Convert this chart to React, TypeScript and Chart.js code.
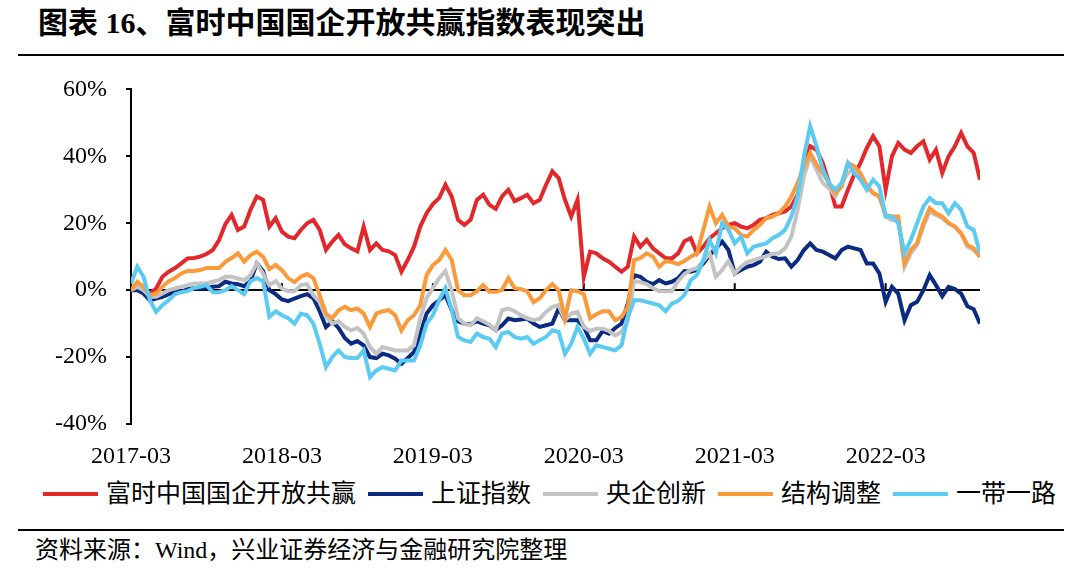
import React, { useEffect, useRef } from "react";
import { Chart, registerables } from "chart.js";

Chart.register(...registerables);

// x: months since 2017-03, sampled every half month
const months: number[] = Array.from({ length: 136 }, (_, i) => i * 0.5);
const tickLabels = ["2017-03", "2018-03", "2019-03", "2020-03", "2021-03", "2022-03"];
const yTicks = [-40, -20, 0, 20, 40, 60];

const seriesNames = ["富时中国国企开放共赢", "上证指数", "央企创新", "结构调整", "一带一路"];
const seriesColors = ["#E2282A", "#0B2A82", "#C3C3C3", "#FB9A3A", "#5BCBF3"];

const ftseSOE = [
  0, 2, 1, -1, 0.5, 4, 5.5, 6.6, 8, 9.5, 9.6, 10,
  10.8, 12, 15, 19.7, 22.5, 18, 19, 24, 28, 27, 19, 21.5,
  17.5, 16, 15.5, 18, 20, 21, 18, 12, 14.5, 16.5, 13.7, 12.5,
  11.6, 19, 12, 14, 12, 11.6, 10.5, 5.5, 9, 13, 19, 23,
  25.7, 27.5, 31.5, 28, 21, 19.5, 21, 27, 28.5, 25.5, 24.3, 28,
  30, 26.6, 27.5, 28.5, 26, 27, 31.5, 35.5, 33.5, 27, 22, 27,
  4, 11.5, 11, 9.5, 8.5, 7, 5.5, 7, 16, 13, 15, 12.5,
  11, 9.6, 9.5, 11, 14.6, 15.5, 11, 13, 15.5, 17, 18.5, 19.5,
  20, 19, 18.5, 19.5, 21, 21.5, 22.5, 23, 23.5, 25, 28.5, 36,
  43, 42, 38, 32, 25, 25, 30, 34.5, 38, 42.5, 46, 43,
  30, 40, 44, 42, 41, 43, 44.5, 39, 42, 35, 40, 43,
  47, 43, 41, 33,
];

const shanghai = [
  0, 0, -1, -3, -2.5, -2, -1.2, -0.5, -0.5, 0.3, 0.6, 0.6,
  0.6, 1, 1.2, 2.5, 2, 1.8, 1.2, 2.7, 8, 5.7, 0, -1.2,
  -2.8, -3.3, -2.5, -1.8, -1.2, -2.4, -6.3, -11, -9.3, -11.3, -14.3, -16,
  -15.2, -16.5, -20, -20.3, -19, -19.5, -20.5, -22, -20.3, -18.5, -13, -7,
  -4.5, -3, -1.5, -6, -9.3, -10, -10.2, -9.3, -10, -10.5, -12, -10.5,
  -8.5, -9, -8.8, -8.5, -10, -11, -10.5, -10, -5.5, -9, -9, -9,
  -11, -15, -15, -12.2, -13, -11.3, -10, -4, 4.5, 4, 2.5, 1.8,
  3, 2, 2.5, 3.6, 5.7, 5.5, 6, 8, 10.5, 12.5, 14.5, 12,
  5, 6, 7, 7.5, 8.5, 11.5, 10, 9.3, 9.5, 7, 9, 12,
  14, 12, 11.5, 10.5, 9.5, 12, 13, 12.5, 12, 8, 8, 5,
  -3.5, 1, -1, -9, -4.5, -3.5, 0, 4.5, 1.5, -1.8, 1, 0.3,
  -1, -4.8, -5.7, -10,
];

const centralSOE = [
  0, 1, 0, -2, -2, -1, 0, 0.5, 1, 1.5, 2, 2,
  2, 2.5, 3, 4, 4, 3.5, 3, 4.5, 8, 5, 1.5, 2.7,
  0.5, -0.3, -0.3, 1.5, 1.8, -1.5, -3.5, -8, -10, -9.3, -11, -12,
  -11.3, -13, -17, -19, -17, -17.5, -18, -18, -18, -16.5, -8.4, -2.4,
  0.6, 3.6, 5.7, 0, -8.4, -10, -10.5, -8.4, -9.3, -10.3, -12, -6,
  -5.5, -6.3, -7.5, -8.4, -9, -8.5, -6.5, -5, -4.5, -9, -7, -6.5,
  -11, -12.2, -11.5, -11.5, -12.2, -13.5, -12.5, -9, 2.7, 2.4, 1.8, 0.6,
  -0.3, -0.3, -0.3, 2.7, 4.8, 6, 6.6, 8.7, 11, 4, 6, 8.7,
  5, 7, 8.4, 9, 9.6, 10.2, 10.8, 11, 12.5, 16, 24, 34,
  40, 36, 32, 30.5, 28, 32, 35, 36, 33, 31.5, 29, 28,
  22, 21, 21, 7, 11, 13.5, 19, 23.5, 22.5, 21.5, 20, 19,
  17, 13, 12, 10,
];

const restructure = [
  0, 2.5, 1, -1.5, -1, 1, 2.7, 3.6, 5, 5.7, 5.7, 6,
  6.6, 6.6, 6.6, 8.5, 9.6, 11, 8.5, 10.5, 11.5, 10, 6.3, 7.5,
  6, 3.6, 2.4, 4, 4.8, 3.6, -1.5, -7, -8.4, -6, -5, -6,
  -5.5, -7, -11, -7, -6.3, -6, -7.5, -12, -9, -7.5, -4.5, 4.5,
  7.5, 9, 12, 9, 0, -1.5, -1.5, -0.3, 1.5, -0.5, -0.5, 0,
  3.6, 0.6, 0.3, -0.3, -3.6, -2.4, 0, 1.8, 0, -8.4, 0, -0.3,
  -1.2, -8.4, -7.2, -6.3, -6.3, -9, -8, -5, 9, 9.6, 11, 10,
  7, 8.7, 8.4, 7.8, 8.7, 10, 11, 18, 25, 20, 22.5, 19,
  18.5, 16.5, 16, 18, 19.5, 21.5, 22, 23, 25, 28, 32, 37,
  41, 37.5, 35, 32, 29, 31, 38, 37, 35, 31, 29, 28,
  22.5, 22, 22, 8, 12, 14, 20, 24.5, 23, 22, 20, 19,
  17, 13.5, 12.5, 10,
];

const beltRoad = [
  2, 7, 4, -3, -6.5, -4.5, -3, -1.2, -0.6, -0.3, 0.6, 1,
  1.5, -0.6, -0.6, 0, 1.2, 0, -1.2, 2.7, 3.6, 2.7, -8, -6.3,
  -7.5, -8.4, -10, -7, -7.5, -10, -16, -23, -20, -18, -20, -20.3,
  -20.3, -18, -26, -24, -23, -23.5, -24, -21, -21, -21, -16.5, -10,
  -7.5, -3, 0.6, -6, -14, -15, -15.5, -13, -14, -14.5, -17, -13,
  -12.5, -14, -14.5, -14, -16, -15, -14, -12, -12.5, -19, -16, -11,
  -14.5, -19, -16.5, -17, -17.5, -18, -16.5, -8, -3, -3, -3.5, -4,
  -4.5, -6.3, -4, -3.2, -1.5, 3, 4.5, 9, 15, 11, 20, 18,
  14, 16, 11, 13, 13.5, 14, 15.5, 16.5, 18, 22, 28, 40,
  49, 43, 36, 32, 30, 32, 38, 35, 33, 30, 33, 31,
  22, 22, 20, 11, 15, 20, 25, 27.5, 26, 26, 23, 26,
  24, 19, 18, 11,
];

const seriesValues = [ftseSOE, shanghai, centralSOE, restructure, beltRoad];

const SERIF = '"Liberation Serif", "Times New Roman", "Noto Sans CJK SC", serif';

export default function App() {
  const canvasRef = useRef<HTMLCanvasElement | null>(null);

  useEffect(() => {
    if (!canvasRef.current) return;

    const zeroTicks = {
      id: "zeroTicks",
      beforeDatasetsDraw(chart: any) {
        const { ctx, scales } = chart;
        const x = scales.x;
        const y = scales.y;
        const y0 = y.getPixelForValue(0);
        ctx.save();
        ctx.strokeStyle = "#000";
        ctx.lineWidth = 2;
        for (let i = 1; i < tickLabels.length; i++) {
          const px = x.getPixelForValue(i * 12);
          ctx.beginPath();
          ctx.moveTo(px, y0);
          ctx.lineTo(px, y0 - 7);
          ctx.stroke();
        }
        ctx.restore();
      },
    };

    const chart = new Chart(canvasRef.current, {
      type: "line",
      data: {
        datasets: seriesNames.map((name, k) => ({
          label: name,
          data: months.map((m, i) => ({ x: m, y: seriesValues[k][i] })),
          borderColor: seriesColors[k],
          backgroundColor: seriesColors[k],
          borderWidth: 4,
          pointRadius: 0,
          tension: 0,
          fill: false,
          order: seriesNames.length - k,
        })),
      },
      options: {
        responsive: false,
        maintainAspectRatio: false,
        animation: false,
        layout: { padding: { left: 0, right: 100, top: 24, bottom: 0 } },
        plugins: {
          legend: { display: false },
          tooltip: { enabled: false },
        },
        scales: {
          x: {
            type: "linear",
            min: 0,
            max: 67.5,
            afterBuildTicks: (s: any) => {
              s.ticks = tickLabels.map((_, i) => ({ value: i * 12 }));
            },
            ticks: {
              autoSkip: false,
              maxRotation: 0,
              padding: 18,
              color: "#000",
              font: { family: SERIF, size: 24 },
              callback: (v: any) => tickLabels[Math.round(Number(v) / 12)] ?? "",
            },
            grid: { display: false, drawTicks: false },
            border: { display: false },
            afterFit: (s: any) => {
              s.height = 47;
            },
          },
          y: {
            min: -40,
            max: 60,
            afterBuildTicks: (s: any) => {
              s.ticks = yTicks.map((v) => ({ value: v }));
            },
            ticks: {
              padding: 19,
              color: "#000",
              font: { family: SERIF, size: 24 },
              callback: (v: any) => `${v}%`,
            },
            grid: {
              drawOnChartArea: true,
              color: (c: any) => (c.tick && c.tick.value === 0 ? "#000" : "rgba(0,0,0,0)"),
              lineWidth: 2,
              tickColor: "#000",
              tickLength: 5,
              tickWidth: 2,
            },
            border: { display: true, color: "#000", width: 2 },
            afterFit: (s: any) => {
              s.width = 131;
            },
          },
        },
      },
      plugins: [zeroTicks],
    } as any);

    return () => chart.destroy();
  }, []);

  return (
    <div
      style={{
        position: "absolute",
        left: 0,
        top: 0,
        width: 1080,
        height: 581,
        background: "#fff",
        overflow: "hidden",
        fontFamily: SERIF,
        color: "#000",
      }}
    >
      <div
        style={{
          position: "absolute",
          left: 38,
          top: 3,
          lineHeight: "40px",
          fontSize: 30,
          fontWeight: 700,
          whiteSpace: "nowrap",
        }}
      >
        图表 16、富时中国国企开放共赢指数表现突出
      </div>
      <div style={{ position: "absolute", left: 18, top: 54, width: 1046, height: 2, background: "#000" }} />
      <canvas
        ref={canvasRef}
        width={1080}
        height={415}
        style={{ position: "absolute", left: 0, top: 56, width: 1080, height: 415 }}
      />
      <div
        style={{
          position: "absolute",
          left: 43,
          top: 478,
          height: 32,
          display: "flex",
          alignItems: "center",
          whiteSpace: "nowrap",
        }}
      >
        {seriesNames.map((name, k) => (
          <div key={name} style={{ display: "flex", alignItems: "center", marginRight: 12 }}>
            <div style={{ width: 55, height: 4, background: seriesColors[k], marginRight: 8 }} />
            <span style={{ fontSize: 25, lineHeight: "32px" }}>{name}</span>
          </div>
        ))}
      </div>
      <div style={{ position: "absolute", left: 18, top: 529, width: 1046, height: 2, background: "#000" }} />
      <div
        style={{
          position: "absolute",
          left: 35,
          top: 535,
          lineHeight: "30px",
          fontSize: 24,
          whiteSpace: "nowrap",
        }}
      >
        资料来源：Wind，兴业证券经济与金融研究院整理
      </div>
    </div>
  );
}
